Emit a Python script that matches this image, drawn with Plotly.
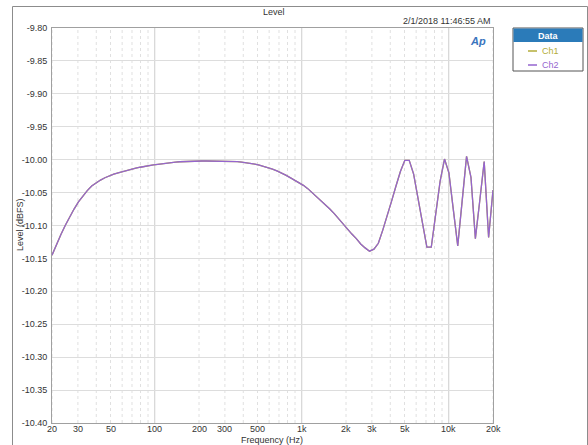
import math
import plotly.graph_objects as go

# ---------------- data ----------------
freq_hz = [20.0, 21.43, 22.96, 24.6, 26.36, 28.25, 30.27, 32.43, 34.75, 37.24,
           39.91, 42.76, 45.82, 49.09, 52.61, 56.37, 60.4, 64.72, 69.35, 74.31,
           79.62, 85.31, 91.42, 97.95, 104.96, 112.47, 120.5, 129.1, 138.4, 148.3,
           158.9, 170.2, 182.4, 195.4, 209.4, 224.4, 240.4, 257.6, 276.1, 295.8,
           317.0, 339.6, 363.9, 390.0, 417.9, 447.7, 479.8, 514.1, 550.8, 590.2,
           632.5, 677.7, 726.1, 778.1, 833.8, 893.4, 957.3, 1025.8, 1099.2, 1177.8,
           1262.0, 1352.3, 1449.0, 1552.6, 1663.7, 1782.7, 1910.2, 2046.8, 2193.2, 2350.1,
           2518.2, 2698.3, 2891.3, 3098.1, 3319.7, 3557.1, 3811.6, 4084.2, 4376.3, 4689.3,
           5024.8, 5384.1, 5769.2, 6181.9, 6624.1, 7097.9, 7605.5, 8149.5, 8732.5, 9357.1,
           10026, 10743, 11512, 12335, 13217, 14163, 15176, 16261, 17424, 18670,
           20000]

ch1_dbfs = [-10.145, -10.129, -10.114, -10.100, -10.087, -10.075, -10.064, -10.055, -10.047, -10.040,
            -10.035, -10.031, -10.0275, -10.0245, -10.022, -10.020, -10.018, -10.016, -10.0145, -10.013,
            -10.0115, -10.010, -10.009, -10.008, -10.007, -10.006, -10.005, -10.0043, -10.0037, -10.0032,
            -10.0028, -10.0025, -10.0022, -10.002, -10.002, -10.002, -10.002, -10.002, -10.002, -10.002,
            -10.0022, -10.0025, -10.003, -10.0037, -10.0045, -10.0055, -10.0068, -10.0083, -10.010, -10.012,
            -10.0143, -10.017, -10.020, -10.0235, -10.0273, -10.031, -10.035, -10.039, -10.044, -10.050,
            -10.056, -10.062, -10.068, -10.075, -10.082, -10.090, -10.097, -10.105, -10.113, -10.120,
            -10.128, -10.134, -10.139, -10.136, -10.127, -10.107, -10.086, -10.063, -10.040, -10.018,
            -10.001, -10.001, -10.022, -10.059, -10.095, -10.133, -10.133, -10.083, -10.033, -9.999,
            -10.020, -10.076, -10.131, -10.063, -9.995, -10.027, -10.120, -10.062, -10.003, -10.118,
            -10.046]

ch2_dbfs = list(ch1_dbfs)

x_tick_vals = [20, 30, 50, 100, 200, 300, 500, 1000, 2000, 3000, 5000, 10000, 20000]
x_tick_text = ["20", "30", "50", "100", "200", "300", "500", "1k", "2k", "3k", "5k", "10k", "20k"]
x_grid_vals = [20, 30, 40, 50, 60, 70, 80, 90, 200, 300, 400, 500, 600, 700, 800, 900,
               2000, 3000, 4000, 5000, 6000, 7000, 8000, 9000, 20000]
x_decade_vals = [100, 1000, 10000]
y_tick_vals = [-9.80, -9.85, -9.90, -9.95, -10.00, -10.05, -10.10, -10.15,
               -10.20, -10.25, -10.30, -10.35, -10.40]

series_names = ["Ch1", "Ch2"]
series_colors = ["#b3ad3a", "#9565cf"]

# ---------------- layout helpers ----------------
W, H = 588, 445
L, R, T, B = 52, 493, 28, 423


def px(x):
    return (x - L) / (R - L)


def py(y):
    return (B - y) / (B - T)


FONT = "Liberation Sans, Arial, sans-serif"
TXT = "#333333"

fig = go.Figure()
fig.add_trace(go.Scatter(x=freq_hz, y=ch1_dbfs, mode="lines", name=series_names[0],
                         line=dict(color=series_colors[0], width=1.3), showlegend=False))
fig.add_trace(go.Scatter(x=freq_hz, y=ch2_dbfs, mode="lines", name=series_names[1],
                         line=dict(color=series_colors[1], width=1.3), showlegend=False))

x_lo, x_hi = math.log10(x_tick_vals[0]) - 1e-9, math.log10(x_tick_vals[-1]) + 1e-9
fig.update_xaxes(
    type="log", range=[x_lo, x_hi], automargin=False,
    showticklabels=False, showgrid=False, ticks="", zeroline=False,
    showline=True, linecolor="#a0a0a0", linewidth=1, mirror=True,
)
fig.update_yaxes(
    range=[-10.40, -9.80], automargin=False, tickmode="array", tickvals=y_tick_vals,
    ticktext=["%.2f" % v for v in y_tick_vals],
    showgrid=True, gridcolor="#dddddd", gridwidth=1, ticks="", zeroline=False,
    showline=True, linecolor="#a0a0a0", linewidth=1, mirror=True,
    tickfont=dict(family=FONT, size=9, color=TXT),
    ticklabelstandoff=2,
)

shapes = []
for v in x_grid_vals:
    shapes.append(dict(type="line", xref="x", yref="paper", x0=v, x1=v, y0=0, y1=1,
                       line=dict(color="#e0e0e0", width=1, dash="dot"), layer="below"))
for v in x_decade_vals:
    shapes.append(dict(type="line", xref="x", yref="paper", x0=v, x1=v, y0=0, y1=1,
                       line=dict(color="#cdcdcd", width=1), layer="below"))

# outer frame
shapes.append(dict(type="rect", xref="paper", yref="paper",
                   x0=px(12.5), x1=px(587.5), y0=py(460), y1=py(6.5),
                   line=dict(color="#8c8c8c", width=1), fillcolor="rgba(0,0,0,0)"))

# legend box
lx0, lx1, ly0, ly1, lh = 513, 583, 28, 71, 42
shapes.append(dict(type="rect", xref="paper", yref="paper",
                   x0=px(lx0), x1=px(lx1), y0=py(ly1), y1=py(ly0),
                   line=dict(color="#555555", width=1), fillcolor="white"))
shapes.append(dict(type="rect", xref="paper", yref="paper",
                   x0=px(lx0 + 0.5), x1=px(lx1 - 0.5), y0=py(lh), y1=py(ly0 + 0.5),
                   line=dict(width=0), fillcolor="#2b7bb9"))
for i, (nm, col) in enumerate(zip(series_names, series_colors)):
    yy = 51 + 14 * i
    shapes.append(dict(type="line", xref="paper", yref="paper",
                       x0=px(528), x1=px(537), y0=py(yy), y1=py(yy),
                       line=dict(color=col, width=1.5)))

annotations = [
    dict(text="Level", x=px(274), y=py(11.5), xref="paper", yref="paper",
         showarrow=False, xanchor="center", yanchor="middle",
         font=dict(family=FONT, size=9, color=TXT)),
    dict(text="2/1/2018 11:46:55 AM", x=px(492), y=py(21), xref="paper", yref="paper",
         showarrow=False, xanchor="right", yanchor="middle",
         font=dict(family=FONT, size=9, color=TXT)),
    dict(text="<b><i>Ap</i></b>", x=px(478), y=py(41), xref="paper", yref="paper",
         showarrow=False, xanchor="center", yanchor="middle",
         font=dict(family=FONT, size=11, color="#3a74bd")),
    dict(text="Frequency (Hz)", x=px(272), y=py(440), xref="paper", yref="paper",
         showarrow=False, xanchor="center", yanchor="middle",
         font=dict(family=FONT, size=9, color=TXT)),
    dict(text="Level (dBFS)", x=px(20), y=py(225), xref="paper", yref="paper",
         showarrow=False, xanchor="center", yanchor="middle", textangle=-90,
         font=dict(family=FONT, size=9, color=TXT)),
    dict(text="<b>Data</b>", x=px((lx0 + lx1) / 2), y=py(35.5), xref="paper", yref="paper",
         showarrow=False, xanchor="center", yanchor="middle",
         font=dict(family=FONT, size=9, color="white")),
]
# x tick labels on the log axis (annotation x uses log10 on log axes)
for v, t in zip(x_tick_vals, x_tick_text):
    annotations.append(dict(text=t, x=math.log10(v), xref="x", y=py(429), yref="paper",
                            showarrow=False, xanchor="center", yanchor="middle",
                            font=dict(family=FONT, size=9, color=TXT)))
for i, (nm, col) in enumerate(zip(series_names, series_colors)):
    annotations.append(dict(text=nm, x=px(540), y=py(51 + 14 * i), xref="paper", yref="paper",
                            showarrow=False, xanchor="left", yanchor="middle",
                            font=dict(family=FONT, size=9, color=col)))

fig.update_layout(
    width=W, height=H,
    margin=dict(l=L, r=W - R, t=T, b=H - B, pad=0, autoexpand=False),
    paper_bgcolor="white", plot_bgcolor="white",
    shapes=shapes, annotations=annotations,
    showlegend=False,
)

fig.write_html("out.html")
